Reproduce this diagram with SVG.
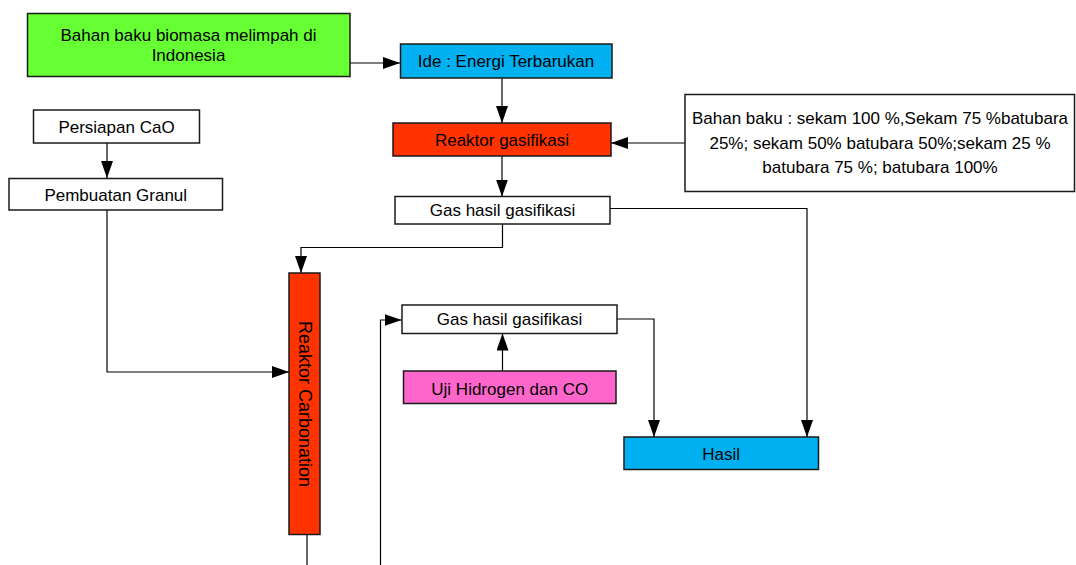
<svg xmlns="http://www.w3.org/2000/svg" width="1076" height="565" viewBox="0 0 1076 565">
<style>
.box{stroke:#1a1a1a;stroke-width:1.5}
.t{font-family:"Liberation Sans",Arial,sans-serif;font-size:17px;fill:#000;text-anchor:middle}
.c{fill:none;stroke:#000;stroke-width:1.2}
</style>
<defs>
<marker id="ah" markerUnits="userSpaceOnUse" markerWidth="18" markerHeight="12" refX="17" refY="6" orient="auto">
<path d="M0,0 L17,6 L0,12 z" fill="#000"/>
</marker>
</defs>
<rect width="1076" height="565" fill="#fff"/>
<g id="connectors">
<path class="c" d="M350,63 H400" marker-end="url(#ah)"/>
<path class="c" d="M502,78 V123" marker-end="url(#ah)"/>
<path class="c" d="M685,143 H611" marker-end="url(#ah)"/>
<path class="c" d="M502,156 V196.5" marker-end="url(#ah)"/>
<path class="c" d="M107,143 V178" marker-end="url(#ah)"/>
<path class="c" d="M502.5,224 V247.5 H301 V273" marker-end="url(#ah)"/>
<path class="c" d="M107,210 V372 H289" marker-end="url(#ah)"/>
<path class="c" d="M610,208.5 H807 V437" marker-end="url(#ah)"/>
<path class="c" d="M617,319 H654 V437" marker-end="url(#ah)"/>
<path class="c" d="M502.5,371 V333.5" marker-end="url(#ah)"/>
<path class="c" d="M380.5,565 V320 H401.5" marker-end="url(#ah)"/>
<path class="c" d="M307,534.5 V565"/>
</g>
<g id="bahan-biomasa">
<rect class="box" x="27.5" y="13.5" width="322.5" height="63" fill="#66FF33"/>
<text class="t" x="188.5" y="41">Bahan baku biomasa melimpah di</text>
<text class="t" x="188.5" y="61">Indonesia</text>
</g>
<g id="ide">
<rect class="box" x="400.5" y="44" width="211.5" height="34" fill="#00B0F0"/>
<text class="t" x="506" y="67">Ide : Energi Terbarukan</text>
</g>
<g id="reaktor-gasifikasi">
<rect class="box" x="393" y="123" width="218" height="33" fill="#FF3300"/>
<text class="t" x="502" y="145.5">Reaktor gasifikasi</text>
</g>
<g id="bahan-baku">
<rect class="box" x="685" y="94.5" width="389.5" height="97" fill="#fff"/>
<text class="t" x="880" y="124">Bahan baku : sekam 100 %,Sekam 75 %batubara</text>
<text class="t" x="880" y="148.5">25%; sekam 50% batubara 50%;sekam 25 %</text>
<text class="t" x="880" y="172.5">batubara 75 %; batubara 100%</text>
</g>
<g id="persiapan-cao">
<rect class="box" x="33.5" y="110" width="166" height="33" fill="#fff"/>
<text class="t" x="116.5" y="132.5">Persiapan CaO</text>
</g>
<g id="pembuatan-granul">
<rect class="box" x="9" y="178.5" width="213.5" height="31.5" fill="#fff"/>
<text class="t" x="115.75" y="200.5">Pembuatan Granul</text>
</g>
<g id="gas-hasil-1">
<rect class="box" x="395" y="196.5" width="215" height="27.5" fill="#fff"/>
<text class="t" x="502.5" y="216">Gas hasil gasifikasi</text>
</g>
<g id="reaktor-carbonation">
<rect class="box" x="289" y="273" width="31" height="261.5" fill="#FF3300"/>
<text class="t" style="font-size:18px" transform="translate(298.8,404) rotate(90)" x="0" y="0">Reaktor Carbonation</text>
</g>
<g id="gas-hasil-2">
<rect class="box" x="402" y="305" width="215" height="28.5" fill="#fff"/>
<text class="t" x="509.5" y="325">Gas hasil gasifikasi</text>
</g>
<g id="uji-hidrogen">
<rect class="box" x="403.5" y="371" width="212.5" height="32.5" fill="#FF66CC"/>
<text class="t" x="509.75" y="394.5">Uji Hidrogen dan CO</text>
</g>
<g id="hasil">
<rect class="box" x="624" y="437" width="194.5" height="32.5" fill="#00B0F0"/>
<text class="t" x="721.25" y="459.5">Hasil</text>
</g>
</svg>
